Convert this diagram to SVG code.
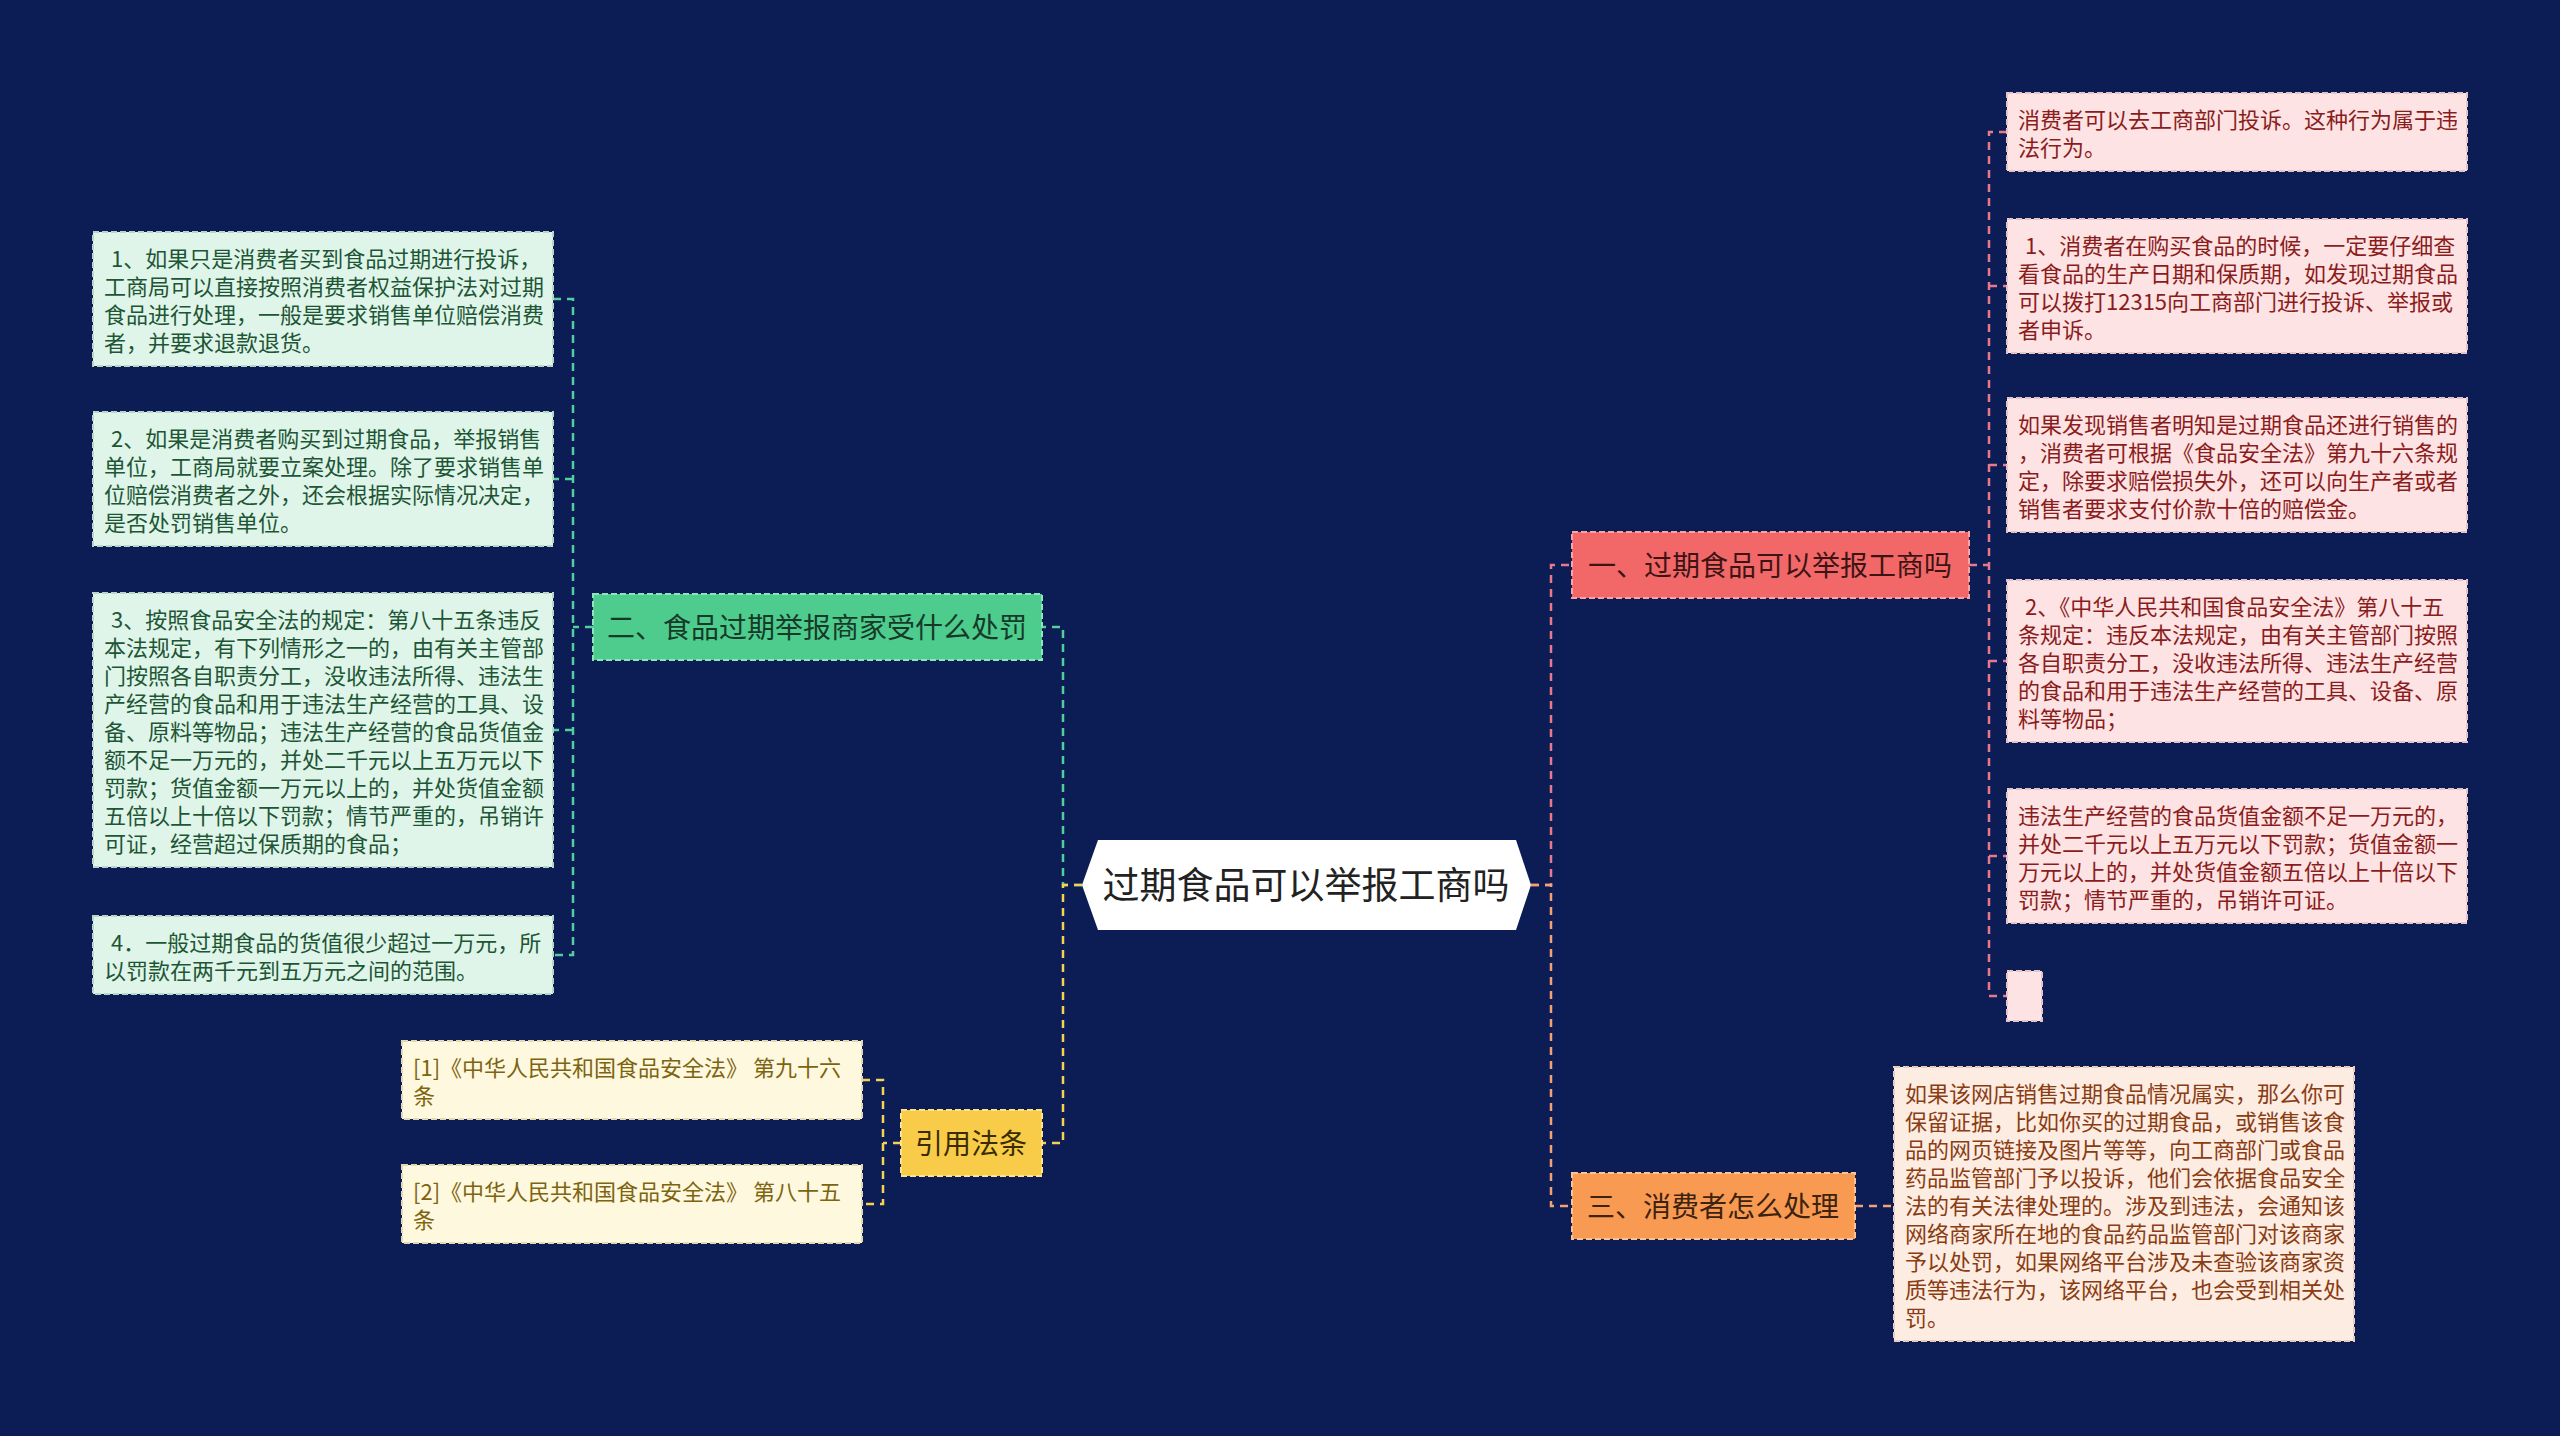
<svg xmlns="http://www.w3.org/2000/svg" width="2560" height="1436" viewBox="0 0 2560 1436">
<style>
text{font-family:"Noto Sans CJK SC","Noto Sans",sans-serif}
.leaf{font-size:22px}
.lg{fill:#1e5535}.lr{fill:#8b1c1c}.lo{fill:#8a3c12}.ly{fill:#7d6410}
.bg{fill:#dff5ea;stroke:#b9d6c6}.br{fill:#fde3e3;stroke:#e6c3c6}.bo{fill:#fdece2;stroke:#e8cdbd}.by{fill:#fef8de;stroke:#e2d9b3}
.box{stroke-width:2;stroke-dasharray:6 3}
.node{font-size:28px;text-anchor:middle}
.c{fill:none;stroke-width:2.5;stroke-dasharray:8 6}
.cg{stroke:#52cf9c}.cy{stroke:#f3d350}.cr{stroke:#e8798b}.co{stroke:#f4a174}
</style>
<rect width="2560" height="1436" fill="#0c1d56"/>
<g id="connectors">
<path class="c cg" d="M1082 885H1063V627H1042"/>
<path class="c cy" d="M1082 885H1063V1143H1042"/>
<path class="c cr" d="M1531 885H1551V565H1572"/>
<path class="c co" d="M1531 885H1551V1206H1572"/>
<path class="c cg" d="M593 627H573M553 299H573V955H553M573 479H553M573 730H553"/>
<path class="c cy" d="M901 1143H883M862 1080H883V1204H862"/>
<path class="c cr" d="M1969 565H1989M2007 132H1989V996H2007M1989 286H2007M1989 465H2007M1989 661H2007M1989 856H2007"/>
<path class="c co" d="M1855 1206H1894"/>
</g>
<g id="center">
<polygon points="1082,885 1098,840 1516,840 1531,885 1516,930 1098,930" fill="#ffffff"/>
<text x="1306" y="899" font-size="37" text-anchor="middle" fill="#222222">过期食品可以举报工商吗</text>
</g>
<g id="n-green">
<rect x="593" y="594" width="449" height="66" fill="#4dcc8e" stroke="#90e4bb" class="box"/>
<text class="node" x="817" y="638" fill="#173a28">二、食品过期举报商家受什么处罚</text>
</g>
<g id="n-yellow">
<rect x="901" y="1110" width="141" height="66" fill="#f8cc48" stroke="#fde38e" class="box"/>
<text class="node" x="971" y="1154" fill="#3a2c00">引用法条</text>
</g>
<g id="n-red">
<rect x="1572" y="532" width="397" height="66" fill="#f26868" stroke="#f9a3a3" class="box"/>
<text class="node" x="1770" y="576" fill="#3d1414">一、过期食品可以举报工商吗</text>
</g>
<g id="n-orange">
<rect x="1572" y="1173" width="283" height="66" fill="#f89a52" stroke="#fbc394" class="box"/>
<text class="node" x="1713" y="1217" fill="#3d2210">三、消费者怎么处理</text>
</g>
<g id="l1">
<rect x="93" y="232" width="460" height="134" class="box bg"/>
<text class="leaf lg" y="267"><tspan x="111">1、如果只是消费者买到食品过期进行投诉，</tspan><tspan x="104" dy="28">工商局可以直接按照消费者权益保护法对过期</tspan><tspan x="104" dy="28">食品进行处理，一般是要求销售单位赔偿消费</tspan><tspan x="104" dy="28">者，并要求退款退货。</tspan></text>
</g>
<g id="l2">
<rect x="93" y="412" width="460" height="134" class="box bg"/>
<text class="leaf lg" y="447"><tspan x="111">2、如果是消费者购买到过期食品，举报销售</tspan><tspan x="104" dy="28">单位，工商局就要立案处理。除了要求销售单</tspan><tspan x="104" dy="28">位赔偿消费者之外，还会根据实际情况决定，</tspan><tspan x="104" dy="28">是否处罚销售单位。</tspan></text>
</g>
<g id="l3">
<rect x="93" y="593" width="460" height="274" class="box bg"/>
<text class="leaf lg" y="628"><tspan x="111">3、按照食品安全法的规定：第八十五条违反</tspan><tspan x="104" dy="28">本法规定，有下列情形之一的，由有关主管部</tspan><tspan x="104" dy="28">门按照各自职责分工，没收违法所得、违法生</tspan><tspan x="104" dy="28">产经营的食品和用于违法生产经营的工具、设</tspan><tspan x="104" dy="28">备、原料等物品；违法生产经营的食品货值金</tspan><tspan x="104" dy="28">额不足一万元的，并处二千元以上五万元以下</tspan><tspan x="104" dy="28">罚款；货值金额一万元以上的，并处货值金额</tspan><tspan x="104" dy="28">五倍以上十倍以下罚款；情节严重的，吊销许</tspan><tspan x="104" dy="28">可证，经营超过保质期的食品；</tspan></text>
</g>
<g id="l4">
<rect x="93" y="916" width="460" height="78" class="box bg"/>
<text class="leaf lg" y="951"><tspan x="111">4．一般过期食品的货值很少超过一万元，所</tspan><tspan x="104" dy="28">以罚款在两千元到五万元之间的范围。</tspan></text>
</g>
<g id="y1">
<rect x="402" y="1041" width="460" height="78" class="box by"/>
<text class="leaf ly" y="1076"><tspan x="413">[1]《中华人民共和国食品安全法》 第九十六</tspan><tspan x="413" dy="28">条</tspan></text>
</g>
<g id="y2">
<rect x="402" y="1165" width="460" height="78" class="box by"/>
<text class="leaf ly" y="1200"><tspan x="413">[2]《中华人民共和国食品安全法》 第八十五</tspan><tspan x="413" dy="28">条</tspan></text>
</g>
<g id="r1">
<rect x="2007" y="93" width="460" height="78" class="box br"/>
<text class="leaf lr" y="128"><tspan x="2018">消费者可以去工商部门投诉。这种行为属于违</tspan><tspan x="2018" dy="28">法行为。</tspan></text>
</g>
<g id="r2">
<rect x="2007" y="219" width="460" height="134" class="box br"/>
<text class="leaf lr" y="254"><tspan x="2025">1、消费者在购买食品的时候，一定要仔细查</tspan><tspan x="2018" dy="28">看食品的生产日期和保质期，如发现过期食品</tspan><tspan x="2018" dy="28">可以拨打12315向工商部门进行投诉、举报或</tspan><tspan x="2018" dy="28">者申诉。</tspan></text>
</g>
<g id="r3">
<rect x="2007" y="398" width="460" height="134" class="box br"/>
<text class="leaf lr" y="433"><tspan x="2018">如果发现销售者明知是过期食品还进行销售的</tspan><tspan x="2018" dy="28">，消费者可根据《食品安全法》第九十六条规</tspan><tspan x="2018" dy="28">定，除要求赔偿损失外，还可以向生产者或者</tspan><tspan x="2018" dy="28">销售者要求支付价款十倍的赔偿金。</tspan></text>
</g>
<g id="r4">
<rect x="2007" y="580" width="460" height="162" class="box br"/>
<text class="leaf lr" y="615"><tspan x="2025">2、《中华人民共和国食品安全法》第八十五</tspan><tspan x="2018" dy="28">条规定：违反本法规定，由有关主管部门按照</tspan><tspan x="2018" dy="28">各自职责分工，没收违法所得、违法生产经营</tspan><tspan x="2018" dy="28">的食品和用于违法生产经营的工具、设备、原</tspan><tspan x="2018" dy="28">料等物品；</tspan></text>
</g>
<g id="r5">
<rect x="2007" y="789" width="460" height="134" class="box br"/>
<text class="leaf lr" y="824"><tspan x="2018">违法生产经营的食品货值金额不足一万元的，</tspan><tspan x="2018" dy="28">并处二千元以上五万元以下罚款；货值金额一</tspan><tspan x="2018" dy="28">万元以上的，并处货值金额五倍以上十倍以下</tspan><tspan x="2018" dy="28">罚款；情节严重的，吊销许可证。</tspan></text>
</g>
<g id="r6">
<rect x="2007" y="971" width="35" height="50" class="box br"/>
</g>
<g id="o1">
<rect x="1894" y="1067" width="460" height="274" class="box bo"/>
<text class="leaf lo" y="1102"><tspan x="1905">如果该网店销售过期食品情况属实，那么你可</tspan><tspan x="1905" dy="28">保留证据，比如你买的过期食品，或销售该食</tspan><tspan x="1905" dy="28">品的网页链接及图片等等，向工商部门或食品</tspan><tspan x="1905" dy="28">药品监管部门予以投诉，他们会依据食品安全</tspan><tspan x="1905" dy="28">法的有关法律处理的。涉及到违法，会通知该</tspan><tspan x="1905" dy="28">网络商家所在地的食品药品监管部门对该商家</tspan><tspan x="1905" dy="28">予以处罚，如果网络平台涉及未查验该商家资</tspan><tspan x="1905" dy="28">质等违法行为，该网络平台，也会受到相关处</tspan><tspan x="1905" dy="28">罚。</tspan></text>
</g>
</svg>
